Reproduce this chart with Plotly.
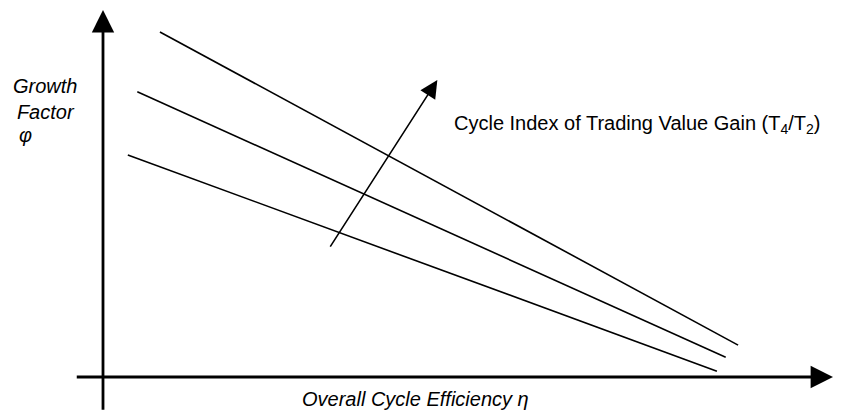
import plotly.graph_objects as go

# --- schematic data (eta = overall cycle efficiency, phi = growth factor) ---
# three constant-(T4/T2) lines, start and end points
line_names = ["low T4/T2", "mid T4/T2", "high T4/T2"]
eta_lines = [[0.034, 0.841], [0.047, 0.853], [0.078, 0.870]]
phi_lines = [[0.605, 0.016], [0.777, 0.054], [0.940, 0.087]]

# direction arrow for increasing T4/T2
trend_eta = [0.310, 0.458]
trend_phi = [0.351, 0.809]

# axis arrows (tail, head)
x_axis_eta = [-0.038, 1.0]
x_axis_phi = [0.0, 0.0]
y_axis_eta = [0.0, 0.0]
y_axis_phi = [-0.093, 1.0]

x_range = [-0.1411, 1.0137]
y_range = [-0.0926, 1.0272]

FONT = "Liberation Sans, Arial, sans-serif"

fig = go.Figure()

for name, xs, ys in zip(line_names, eta_lines, phi_lines):
    fig.add_trace(go.Scatter(
        x=xs, y=ys, mode="lines", name=name,
        line=dict(color="black", width=1.6),
        hoverinfo="skip"
    ))

# axes drawn as arrows
for xs, ys in [(x_axis_eta, x_axis_phi), (y_axis_eta, y_axis_phi)]:
    fig.add_annotation(
        x=xs[1], y=ys[1], ax=xs[0], ay=ys[0],
        xref="x", yref="y", axref="x", ayref="y",
        showarrow=True, arrowhead=2, arrowsize=1.6, arrowwidth=2.8,
        arrowcolor="black", text=""
    )

# trend arrow
fig.add_annotation(
    x=trend_eta[1], y=trend_phi[1], ax=trend_eta[0], ay=trend_phi[0],
    xref="x", yref="y", axref="x", ayref="y",
    showarrow=True, arrowhead=2, arrowsize=2.2, arrowwidth=1.6,
    arrowcolor="black", text=""
)

# labels
fig.add_annotation(
    x=0.478, y=0.688, xref="x", yref="y", xanchor="left", yanchor="middle",
    showarrow=False,
    text="Cycle Index of Trading Value Gain (T<sub>4</sub>/T<sub>2</sub>)",
    font=dict(family=FONT, size=20, color="black")
)
fig.add_annotation(
    x=0.270, y=-0.060, xref="x", yref="y", xanchor="left", yanchor="middle",
    showarrow=False,
    text="<i>Overall Cycle Efficiency η</i>",
    font=dict(family=FONT, size=20, color="black")
)
fig.add_annotation(
    x=-0.080, y=0.758, xref="x", yref="y", xanchor="center", yanchor="middle",
    showarrow=False, align="center",
    text="<i>Growth<br>Factor</i>",
    font=dict(family=FONT, size=20, color="black")
)
fig.add_annotation(
    x=-0.118, y=0.660, xref="x", yref="y", xanchor="left", yanchor="middle",
    showarrow=False,
    text="<i>φ</i>",
    font=dict(family=FONT, size=20, color="black")
)

fig.update_layout(
    width=843, height=411,
    margin=dict(l=0, r=0, t=0, b=0),
    paper_bgcolor="white", plot_bgcolor="white",
    showlegend=False,
    xaxis=dict(range=x_range, visible=False, fixedrange=True),
    yaxis=dict(range=y_range, visible=False, fixedrange=True),
)

# drop the page's default body margin so the figure sits at the window corner
fig.write_html(
    "out.html",
    config={"displayModeBar": False},
    post_script="document.body.style.margin='0';document.body.style.overflow='hidden';"
)
